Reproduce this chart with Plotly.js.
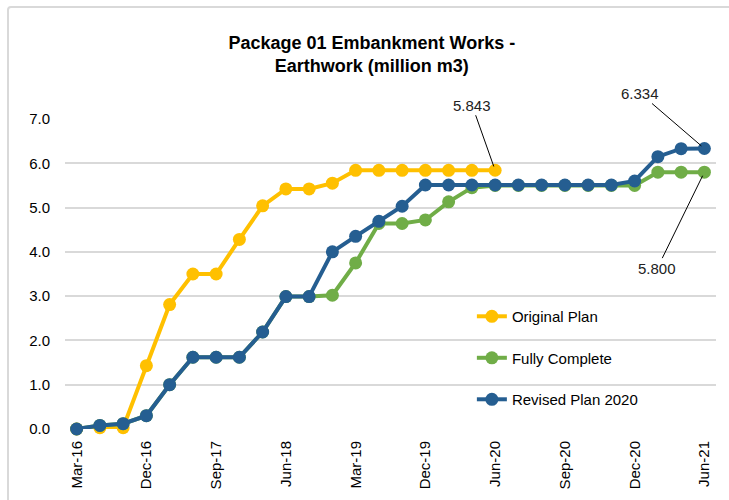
<!DOCTYPE html>
<html>
<head>
<meta charset="utf-8">
<script src="https://cdn.plot.ly/plotly-3.0.1.min.js"></script>
<style>
  html, body { margin: 0; padding: 0; background: #fff; }
  #wrap { position: relative; width: 729px; height: 500px; overflow: hidden; }
  #frame { position: absolute; left: 7px; top: 6px; width: 740px; height: 510px;
           border: 2px solid #d9d9d9; border-radius: 4px; box-sizing: border-box; }
  #chart { position: absolute; left: 0; top: 0; width: 729px; height: 500px; }
</style>
</head>
<body>
<div id="wrap">
  <div id="frame"></div>
  <div id="chart"></div>
</div>
<script>
// x categories (quarterly, then denser points from 2020)
const periods = ['Mar-16','Jun-16','Sep-16','Dec-16','Mar-17','Jun-17','Sep-17','Dec-17',
  'Mar-18','Jun-18','Sep-18','Dec-18','Mar-19','Jun-19','Sep-19','Dec-19',
  'Feb-20','Apr-20','Jun-20','Jul-20','Aug-20','Sep-20','Oct-20','Nov-20','Dec-20',
  'Feb-21','Apr-21','Jun-21'];

const originalPlan = [0, 0.03, 0.03, 1.43, 2.81, 3.50, 3.50, 4.28, 5.04, 5.42, 5.42, 5.55,
  5.84, 5.84, 5.84, 5.84, 5.84, 5.84, 5.843];

const fullyComplete = [0, 0.08, 0.12, 0.30, 1.00, 1.62, 1.62, 1.62, 2.19, 2.99, 2.99, 3.02,
  3.75, 4.64, 4.64, 4.72, 5.13, 5.45, 5.50, 5.50, 5.50, 5.50, 5.50, 5.50, 5.50, 5.80, 5.80, 5.800];

const revisedPlan = [0, 0.08, 0.12, 0.30, 1.00, 1.62, 1.62, 1.62, 2.19, 2.99, 2.99, 4.00,
  4.35, 4.69, 5.03, 5.51, 5.51, 5.51, 5.51, 5.51, 5.51, 5.51, 5.51, 5.51, 5.60, 6.15, 6.33, 6.334];

const yTicks = [0, 1, 2, 3, 4, 5, 6, 7];

const FONT = 'Liberation Sans, Arial, sans-serif';

function series(name, ys, color, group) {
  return {
    x: periods.slice(0, ys.length), y: ys, name: name,
    type: 'scatter', mode: 'lines+markers',
    line: { color: color, width: 4 },
    marker: { color: color, size: 13 },
    legendgroup: group, cliponaxis: false, hoverinfo: 'none'
  };
}

const traces = [
  series('Original Plan', originalPlan, '#FFC000', 'a'),
  series('Fully Complete', fullyComplete, '#70AD47', 'b'),
  series('Revised Plan 2020', revisedPlan, '#255E91', 'c')
];

// label only every third period
const tickPeriods = periods.filter((p, i) => i % 3 === 0);

function lastPoint(ys) { return { x: periods[ys.length - 1], y: ys[ys.length - 1] }; }

function callout(pt, text, ax, ay) {
  return {
    x: pt.x, y: pt.y, xref: 'x', yref: 'y', text: text,
    showarrow: true, arrowhead: 0, arrowwidth: 1, arrowcolor: '#000',
    ax: ax, ay: ay, standoff: 4,
    font: { family: FONT, size: 15, color: '#222' }
  };
}

const layout = {
  width: 729, height: 500,
  paper_bgcolor: 'rgba(0,0,0,0)', plot_bgcolor: 'rgba(0,0,0,0)',
  margin: { l: 65, r: 13, t: 119, b: 71 },
  font: { family: FONT, size: 15, color: '#000' },
  title: {
    text: '<b>Package 01 Embankment Works -<br>Earthwork (million m3)</b>',
    font: { family: FONT, size: 18, color: '#000', lineposition: 'none' },
    xref: 'container', x: 0.51, xanchor: 'center',
    yref: 'container', y: 0.903, yanchor: 'middle'
  },
  xaxis: {
    type: 'category', categoryorder: 'array', categoryarray: periods,
    range: [-0.5, 27.5],
    tickmode: 'array', tickvals: tickPeriods, ticktext: tickPeriods,
    tickangle: -90, ticks: '', showgrid: false, showline: false, zeroline: false,
    ticklabelstandoff: 8,
    tickfont: { family: FONT, size: 15, color: '#000' }
  },
  yaxis: {
    range: [0, 7], tickmode: 'array', tickvals: yTicks,
    tickformat: '.1f', ticks: '', showline: false, zeroline: false,
    showgrid: true, gridcolor: '#d9d9d9', gridwidth: 2,
    ticklabelstandoff: 14,
    tickfont: { family: FONT, size: 15, color: '#000' }
  },
  showlegend: true,
  legend: {
    x: 0.625, y: 0.416, xanchor: 'left', yanchor: 'top',
    bgcolor: 'rgba(255,255,255,0)', tracegroupgap: 19,
    font: { family: FONT, size: 15, color: '#000' }
  },
  annotations: [
    callout(lastPoint(originalPlan), '5.843', -23, -65),
    callout(lastPoint(revisedPlan), '6.334', -64, -55),
    callout(lastPoint(fullyComplete), '5.800', -47, 96)
  ]
};

Plotly.newPlot('chart', traces, layout, { displayModeBar: false, staticPlot: true });
</script>
</body>
</html>
